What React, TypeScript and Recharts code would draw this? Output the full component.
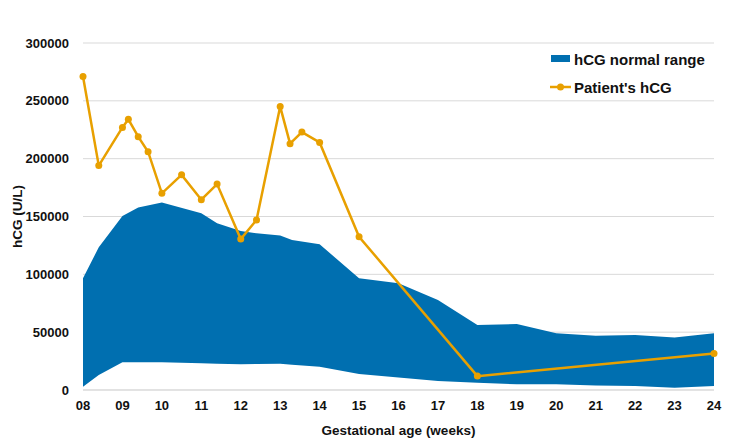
import { ComposedChart, Area, Line, XAxis, YAxis, CartesianGrid } from 'recharts'

const rangeWeeks = [8, 8.4, 9, 9.4, 10, 11, 11.4, 12, 12.4, 13, 13.3, 14, 15, 16, 17, 18, 19, 20, 21, 22, 23, 24]
const rangeHigh = [
  96600, 123400, 150500, 157700, 162000, 152800, 144200, 137500, 135500, 133500, 129700, 126000, 96600, 92300, 77900,
  56200, 57100, 49000, 47000, 47600, 45300, 49000,
]
const rangeLow = [
  2900, 13000, 24000, 24000, 24000, 23100, 22700, 22300, 22500, 22800, 21800, 20200, 13800, 10700, 7800, 6300, 4900,
  4900, 3800, 3500, 2000, 3500,
]

const patientWeeks = [8, 8.4, 9, 9.15, 9.4, 9.65, 10, 10.5, 11, 11.4, 12, 12.4, 13, 13.25, 13.55, 14, 15, 18, 24]
const patientHcg = [
  271000, 194000, 227000, 234000, 219000, 206000, 170000, 186000, 164500, 178000, 130500, 147000, 245000, 213000,
  223000, 214000, 132500, 12000, 31500,
]

const weekTicks = [8, 9, 10, 11, 12, 13, 14, 15, 16, 17, 18, 19, 20, 21, 22, 23, 24]
const hcgTicks = [0, 50000, 100000, 150000, 200000, 250000, 300000]

const BLUE = '#006fb0'
const GOLD = '#e8a000'
const FONT = '"Liberation Sans", Arial, sans-serif'

const rangeData = rangeWeeks.map((w, i) => ({ week: w, range: [rangeLow[i], rangeHigh[i]] }))
const patientData = patientWeeks.map((w, i) => ({ week: w, hcg: patientHcg[i] }))

function LegendBox() {
  const row = { display: 'flex', alignItems: 'center', height: 28 }
  const text = { fontFamily: FONT, fontWeight: 700, fontSize: 15, color: '#111', marginLeft: 3 }
  return (
    <div style={{ position: 'absolute', left: 550, top: 45 }}>
      <div style={row}>
        <svg width={21} height={10}>
          <rect x={1} y={1} width={19} height={7} fill={BLUE} />
        </svg>
        <span style={text}>hCG normal range</span>
      </div>
      <div style={row}>
        <svg width={21} height={10}>
          <line x1={0} y1={5} x2={21} y2={5} stroke={GOLD} strokeWidth={2.5} />
          <circle cx={10.5} cy={5} r={3.5} fill={GOLD} />
        </svg>
        <span style={text}>Patient's hCG</span>
      </div>
    </div>
  )
}

export default function App() {
  return (
    <div style={{ position: 'absolute', left: 0, top: 0, width: 750, height: 440, background: '#fff' }}>
      <ComposedChart width={750} height={440} margin={{ top: 43, right: 36, left: 0, bottom: 0 }}>
        <CartesianGrid vertical={false} stroke="#d9d9d9" />
        <XAxis
          dataKey="week"
          type="number"
          domain={[8, 24]}
          ticks={weekTicks}
          allowDuplicatedCategory={false}
          tickFormatter={(v: number) => (v < 10 ? '0' + v : String(v))}
          tick={{ fill: '#111', fontSize: 13, fontWeight: 700, fontFamily: FONT }}
          tickLine={false}
          tickMargin={5}
          axisLine={{ stroke: '#d9d9d9' }}
          height={50}
          label={{
            value: 'Gestational age (weeks)',
            position: 'insideBottom',
            offset: 5,
            fill: '#111',
            fontSize: 13.5,
            fontWeight: 700,
            fontFamily: FONT,
          }}
        />
        <YAxis
          type="number"
          domain={[0, 300000]}
          ticks={hcgTicks}
          tick={{ fill: '#111', fontSize: 13, fontWeight: 700, fontFamily: FONT }}
          tickLine={false}
          axisLine={false}
          tickMargin={8}
          width={83}
          label={{
            value: 'hCG (U/L)',
            angle: -90,
            position: 'insideLeft',
            offset: 17,
            style: { textAnchor: 'middle' },
            fill: '#111',
            fontSize: 13.5,
            fontWeight: 700,
            fontFamily: FONT,
          }}
        />
        <Area
          data={rangeData}
          dataKey="range"
          name="hCG normal range"
          type="linear"
          stroke="none"
          fill={BLUE}
          fillOpacity={1}
          isAnimationActive={false}
          activeDot={false}
        />
        <Line
          data={patientData}
          dataKey="hcg"
          name="Patient's hCG"
          type="linear"
          stroke={GOLD}
          strokeWidth={2.5}
          dot={{ r: 3.5, fill: GOLD, stroke: GOLD, strokeWidth: 0 }}
          activeDot={false}
          isAnimationActive={false}
        />
      </ComposedChart>
      <LegendBox />
    </div>
  )
}
